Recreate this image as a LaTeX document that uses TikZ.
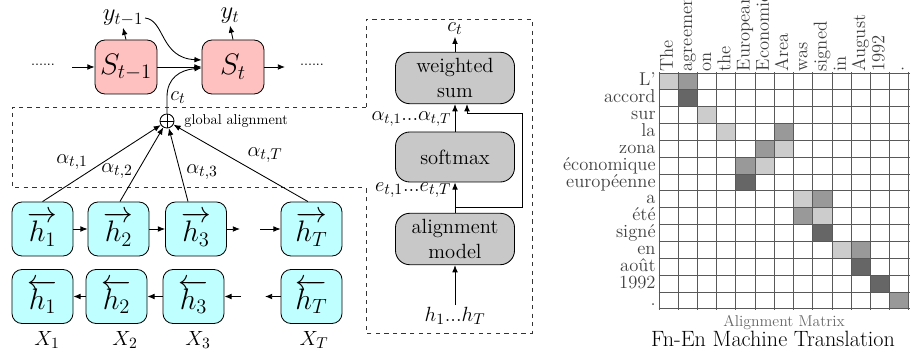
\documentclass[tikz,border=0pt]{standalone}
\usepackage{fontspec}
\usetikzlibrary{arrows.meta}
\definecolor{hcyan}{RGB}{192,255,255}
\definecolor{spink}{RGB}{255,192,192}
\definecolor{gfill}{RGB}{200,200,200}
\newcommand{\mf}{\fontsize{15.5}{18}\selectfont}
\newcommand{\bigf}{\fontsize{19.5}{23}\selectfont}
\newcommand{\labf}{\fontsize{13}{16}\selectfont}
\begin{document}
\begin{tikzpicture}[x=0.7pt,y=-0.7pt,line width=0.6pt,
  arr/.style={-{Latex[length=5pt,width=4pt]}},
  sbox/.style={draw,rounded corners=7pt,fill=spink,minimum width=43.4pt,minimum height=37.8pt,inner sep=0pt,font=\bigf},
  hbox/.style={draw,rounded corners=7pt,fill=hcyan,minimum width=42.7pt,minimum height=37.8pt,inner sep=0pt,font=\bigf},
  gbox/.style={draw,rounded corners=10pt,fill=gfill,minimum width=83.3pt,minimum height=36pt,inner sep=0pt,align=center,font=\Large},
  mlab/.style={font=\mf,inner sep=1pt},
  dbox/.style={dashed,line width=0.6pt,black!80},
  gridline/.style={black!65,line width=0.75pt},
  rowlab/.style={anchor=east,font=\labf,text=black!75,inner sep=0pt},
  collab/.style={anchor=west,rotate=90,font=\labf,text=black!75,inner sep=0.5pt,text height=0.7em,text depth=0.12em}]
\useasboundingbox (0,0) rectangle (915,358);

% ---------- decoder ----------
\node[sbox] (S1) at (126,67) {$S_{t-1}$};
\node[sbox] (S2) at (233,67) {$S_t$};
\node[font=\normalsize] (dl) at (43,65) {......};
\node[font=\normalsize] (dr) at (312,65) {......};
\coordinate (la) at (72,67);
\coordinate (ra) at (285,67);
\draw[arr] (la) -- (S1.west);
\draw[arr] (S1.east) -- (S2.west);
\draw[arr] (S2.east) -- (ra);
\node[font=\fontsize{17}{20}\selectfont,inner sep=1pt] (y1) at (123,18) {$y_{t-1}$};
\node[font=\fontsize{16.5}{20}\selectfont,inner sep=1pt] (y2) at (230,16) {$y_t$};
\draw[arr] (S1.north) -- (y1.south);
\draw[arr] (S2.north) -- (y2.south);
\draw[arr] (y1.east) .. controls (165,20) and (160,58) .. ([yshift=4.9pt]S2.west);

% ---------- global alignment ----------
\node[circle,draw,minimum size=9.8pt,inner sep=0pt] (op) at (167,121) {};
\draw (op.north) -- (op.south) (op.west) -- (op.east);
\coordinate (cbend) at (167,97);
\draw[arr] (op.north) -- (cbend) .. controls (167,78) and (180,70) .. ([yshift=-0.7pt]S2.west);
\node[mlab] (ct) at (178,98) {$c_t$};
\node[anchor=west,font=\normalsize,inner sep=0pt] (ga) at (184,121) {global alignment};

\draw[dbox] (366,107) -- (12,107) -- (12,187) -- (366,187);
\draw[dbox] (366,107) -- (366,19) -- (532,19) -- (532,333) -- (366,333) -- (366,187);

% ---------- encoder ----------
\node[hbox] (f1) at (42.5,229) {$\overrightarrow{h_1}$};
\node[hbox] (f2) at (118.5,229) {$\overrightarrow{h_2}$};
\node[hbox] (f3) at (196,229) {$\overrightarrow{h_3}$};
\node[hbox] (fT) at (311.5,229) {$\overrightarrow{h_T}$};
\node[hbox] (b1) at (42.5,296.5) {$\overleftarrow{h_1}$};
\node[hbox] (b2) at (116.5,296.5) {$\overleftarrow{h_2}$};
\node[hbox] (b3) at (193.5,296.5) {$\overleftarrow{h_3}$};
\node[hbox] (bT) at (311.5,296.5) {$\overleftarrow{h_T}$};
\coordinate (f3e) at (240,229);
\coordinate (fTw) at (260,229);
\coordinate (b3e) at (241,296.5);
\coordinate (bTw) at (265,296.5);
\draw[arr] (f1.east) -- (f2.west);
\draw[arr] (f2.east) -- (f3.west);
\draw[arr] (f3.east) -- (f3e);
\draw[arr] (fTw) -- (fT.west);
\draw[arr] (b2.west) -- (b1.east);
\draw[arr] (b3.west) -- (b2.east);
\draw[arr] (b3e) -- (b3.east);
\draw[arr] (bT.west) -- (bTw);

\draw[arr] (f1.north) -- (op);
\draw[arr] ([xshift=1pt]f2.north) -- (op);
\draw[arr] ([xshift=-5.6pt]f3.north) -- (op);
\draw[arr] ([xshift=-2.5pt]fT.north) -- (op);
\node[mlab] (a1) at (72,162) {$\alpha_{t,1}$};
\node[mlab] (a2) at (117,171) {$\alpha_{t,2}$};
\node[mlab] (a3) at (202,172) {$\alpha_{t,3}$};
\node[mlab] (aT) at (265,155) {$\alpha_{t,T}$};

\node[mlab] (x1) at (47,340) {$X_1$};
\node[mlab] (x2) at (125,340) {$X_2$};
\node[mlab] (x3) at (198,340) {$X_3$};
\node[mlab] (xT) at (314,340) {$X_T$};

% ---------- attention detail ----------
\node[gbox] (ws) at (455,78) {weighted\\sum};
\node[gbox,minimum height=35pt] (sm) at (455,157) {softmax};
\node[gbox] (am) at (455,239) {alignment\\model};
\node[mlab] (ct2) at (455,29) {$c_t$};
\node[mlab] (hh) at (455,316) {$h_1...h_T$};
\draw[arr] (ws.north) -- (ct2.south);
\draw[arr] (sm.north) -- (ws.south);
\draw[arr] (am.north) -- (sm.south);
\draw[arr] (hh.north) -- (am.south);
\node[anchor=east,font=\mf,inner sep=1pt] (el) at (453,190) {$e_{t,1}...e_{t,T}$};
\node[anchor=east,font=\fontsize{14}{17}\selectfont,inner sep=1pt] (al) at (453,119) {$\alpha_{t,1}...\alpha_{t,T}$};
\coordinate (bp) at (455,207);
\coordinate (bq) at (522,113);
\draw[arr] (bp) -| (bq) -| ([xshift=8.4pt]ws.south);

% ---------- alignment matrix ----------
\def\cw{19.23}
\def\rh{16.857}
\foreach \r/\c/\s in {0/0/20,0/1/40,1/1/60,2/2/20,3/3/20,3/6/40,4/5/40,4/6/20,5/4/40,5/5/20,6/4/60,7/7/20,7/8/40,8/7/40,8/8/20,9/8/60,10/9/20,10/10/40,11/10/60,12/11/60,13/12/40}
  \fill[black!\s] ({659+\c*\cw},{73+\r*\rh}) rectangle ++(\cw,\rh);
\foreach \i in {0,...,13}{
  \pgfmathsetmacro{\gx}{int(659+\i*\cw)+0.5}
  \draw[gridline] (\gx,72.5) -- (\gx,309.5);}
\foreach \j in {0,...,14}{
  \pgfmathsetmacro{\gy}{int(73+\j*\rh)+0.5}
  \draw[gridline] (658.5,\gy) -- (909.5,\gy);}
\foreach \w [count=\i from 0] in {L',accord,sur,la,zona,économique,européenne,a,été,signé,en,août,1992,.}
  \node[rowlab] (r\i) at (656,{73+(\i+0.5)*\rh}) {\strut\w};
\foreach \w [count=\i from 0] in {The,agreement,on,the,European,Economic,Area,was,signed,in,August,1992,.}
  \node[collab] (c\i) at ({659+(\i+0.5)*\cw},72.5) {\w};
\node[font=\fontsize{11}{13}\selectfont,text=black!60] (amx) at (784,322) {Alignment Matrix};
\node[font=\fontsize{15.5}{18}\selectfont] (cap) at (773,339) {Fn-En Machine Translation};
\end{tikzpicture}
\end{document}
